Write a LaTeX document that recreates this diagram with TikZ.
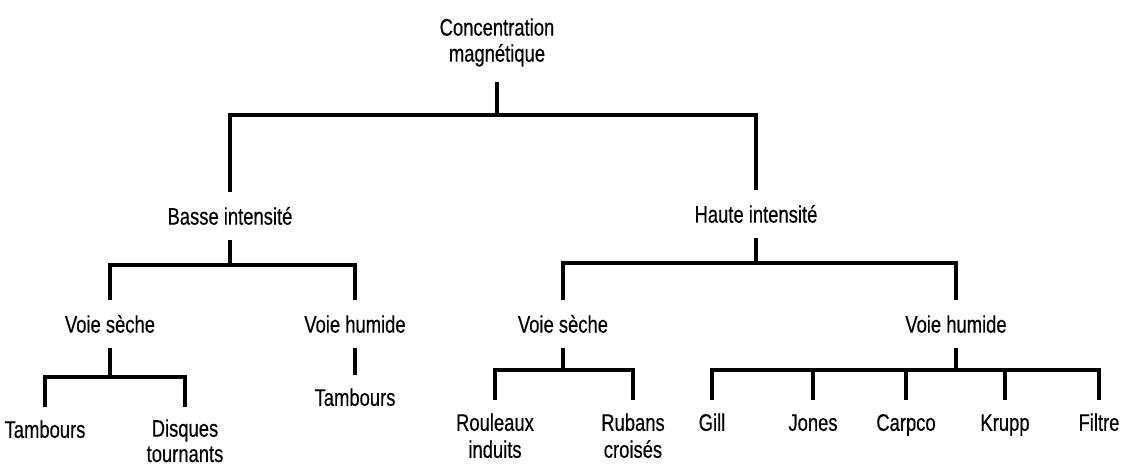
\documentclass[tikz,border=0pt]{standalone}
\usepackage{fontspec}
\setmainfont{Liberation Sans}[FakeStretch=0.77,FakeBold=0.4]
\usetikzlibrary{calc,positioning}

\begin{document}
\begin{tikzpicture}[x=0.025cm,y=-0.025cm]

        % Setup the styles for the labels and the branches
        \tikzset{root style/.style={anchor=north,
                                    align=center,
                                    inner xsep=2pt,
                                    inner ysep=10.5pt,
                                    text height=12.5pt,
                                    font=\fontsize{17}{18.5}\selectfont},
                 mid style/.style={root style},
                 leaf style/.style={root style,
                                    inner ysep=9.2pt,
                                    font=\fontsize{17}{19.2}\selectfont},
                 two lines/.style={text height=31.7pt},
                 branch/.style={line width=2.5pt,
                                draw=black}}
        \useasboundingbox (0,0) rectangle (1126,466);

        % Draw the labels
        \node[root style,text height=31pt] at (497, 3) (root) {Concentration\\magnétique};
        \node[mid style]  at (230, 192)   (basse)  {Basse intensité};
        \node[mid style]  at (756, 190)   (haute)  {Haute intensité};
        \node[mid style]  at (110, 300)   (vsl)    {Voie sèche};
        \node[mid style]  at (355, 300)   (vhl)    {Voie humide};
        \node[mid style]  at (563, 300)   (vsr)    {Voie sèche};
        \node[mid style]  at (956, 300)   (vhr)    {Voie humide};

        \node[leaf style] at (45, 407)    (tamba)  {Tambours};
        \node[leaf style,text height=30.5pt,inner ysep=8.4pt,
              font=\fontsize{17}{18}\selectfont] at (185, 407) (disq) {Disques\\tournants};
        \node[leaf style] at (355, 375)   (tambb)  {Tambours};
        \node[leaf style,two lines] at (495, 400) (roul) {Rouleaux\\induits};
        \node[leaf style,two lines] at (633, 400) (rub)  {Rubans\\croisés};
        \node[leaf style] at (712, 400)   (gill)   {Gill};
        \node[leaf style] at (813, 400)   (jones)  {Jones};
        \node[leaf style] at (906, 400)   (carpco) {Carpco};
        \node[leaf style] at (1005, 400)  (krupp)  {Krupp};
        \node[leaf style] at (1099, 400)  (filtre) {Filtre};

        % Forks of the tree
        \coordinate (f0) at (497, 115);
        \coordinate (fb) at (230, 265);
        \coordinate (fh) at (756, 263);
        \coordinate (fs) at (110, 377);
        \coordinate (fr) at (563, 370);
        \coordinate (fw) at (956, 370);

        % Connect the labels
        \draw[branch]
            (root) -- (f0) -| (basse)
            (f0) -| (haute)
            (basse) -- (fb) -| (vsl)
            (fb) -| (vhl)
            (vsl) -- (fs) -| (tamba)
            (fs) -| (disq)
            (vhl) -- (tambb)
            (haute) -- (fh) -| (vsr)
            (fh) -| (vhr)
            (vsr) -- (fr) -| (roul)
            (fr) -| (rub)
            (vhr) -- (fw);
        \foreach \n in {gill,jones,carpco,krupp,filtre}
            \draw[branch] (fw) -| (\n);
\end{tikzpicture}
\end{document}
